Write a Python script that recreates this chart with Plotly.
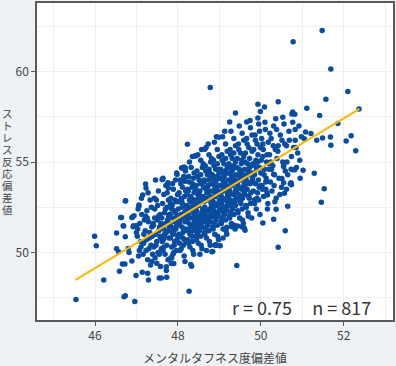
import plotly.graph_objects as go

# ---- data ----
sparse_low = [(45.54,47.39),(45.99,50.89),(46.03,50.37),(46.21,48.47),(46.70,47.55),(46.73,47.60),
    (46.96,47.28),(46.52,51.08),(46.52,50.20),(46.57,50.04),(46.59,48.96),(46.66,49.36),(46.72,49.36),
    (46.74,52.86),(46.64,51.93),(46.69,51.46),(46.73,50.86),(46.80,50.22),(46.82,50.00),(46.89,49.52),
    (46.99,48.72),(46.90,51.95),(46.94,52.03),(46.93,51.48),(47.00,51.48),(47.00,51.10),(47.06,52.57),
    (47.15,53.17),(47.22,53.78),(47.27,48.85),(47.29,48.48),(47.37,49.49),(47.55,48.58),(47.60,48.58),
    (47.73,48.62),(47.58,49.22),(47.72,49.00),(47.84,49.38),(47.90,49.38),(47.85,49.69),(48.27,47.85),
    (48.31,49.33),(49.42,49.27),(50.42,50.29),(50.59,51.20),(50.31,51.84),(50.37,52.39),(50.05,51.63),
    (50.65,52.56),(51.46,52.78),(51.53,53.52),(50.57,53.27),(50.62,53.50),(50.74,53.74),(50.12,53.49),
    (50.16,53.17),(49.60,51.35),(49.62,51.22),(49.32,51.44),(49.18,51.39),(48.94,50.40),(48.82,50.04),
    (48.33,49.23),(48.84,50.05),(48.91,50.42),(49.02,50.37),(49.30,51.42),(49.44,51.46),(49.54,51.42),
    (49.15,51.30),(46.62,51.93),(46.89,51.93),(46.68,51.48),(46.92,51.42),(46.73,52.85),(47.06,52.63)]

sparse_high = [(51.48,62.28),(50.78,61.66),(51.69,60.15),(48.78,59.12),(52.10,58.90),(51.57,58.47),
    (52.37,57.94),(49.93,58.20),(50.42,58.34),(50.09,58.05),(49.39,57.72),(50.77,57.77),(50.75,57.66),
    (50.82,57.65),(51.11,57.97),(51.42,57.57),(49.99,57.79),(49.93,57.44),(50.53,57.48),(49.66,57.21),
    (49.25,57.21),(51.86,57.13),(52.18,56.46),(52.06,56.17),(52.29,55.62),(51.68,56.39),(51.49,56.33),
    (51.69,55.93),(51.35,56.20),(51.21,56.58),(51.08,56.66),(51.05,56.29),(51.29,54.38),(51.02,54.54),
    (50.77,54.58),(50.82,54.58),(50.55,54.75),(50.31,54.32),(50.51,54.09),(50.55,53.85),(50.73,53.85),
    (48.99,56.37),(48.65,55.71),(48.43,55.33),(50.83,56.80),(48.23,55.98),(48.35,55.31),(48.42,55.35),
    (48.10,54.67),(48.18,54.67),(47.98,54.31),(47.63,54.03),(47.76,53.85),(48.17,53.94),(47.23,53.57),
    (47.62,54.03),(47.74,53.76),(47.77,53.57),(48.09,54.67),(48.15,54.72),(48.17,54.16)]

band_470 = [(47.02,50.9),(47.05,49.8),(47.08,51.6),(47.11,50.3),(47.13,52.1),(47.16,49.9),(47.18,51.0),
    (47.04,52.4),(47.10,50.6),(47.14,48.9),(47.19,51.8),(47.07,50.1),(47.12,53.0),(47.17,50.5),(47.03,51.3)]
band_472 = [(47.21,51.2),(47.23,50.1),(47.25,52.3),(47.27,49.6),(47.29,51.7),(47.31,50.8),(47.33,52.9),
    (47.35,50.4),(47.37,51.4),(47.39,49.9),(47.22,52.0),(47.24,50.7),(47.26,51.9),(47.28,53.3),(47.30,50.2),
    (47.32,51.1),(47.34,49.3),(47.36,52.5),(47.38,50.9),(47.40,51.6)]
band_474 = [(47.41,51.5),(47.42,50.3),(47.44,52.4),(47.45,49.7),(47.46,51.0),(47.48,52.9),(47.49,50.6),
    (47.50,51.8),(47.52,50.0),(47.53,53.4),(47.54,51.2),(47.55,49.9),(47.57,52.1),(47.58,50.8),(47.59,51.6),
    (47.43,53.0),(47.47,50.4),(47.51,52.6),(47.56,51.4),(47.60,50.2),(47.44,51.9),(47.49,49.4),(47.53,52.0),
    (47.57,50.9),(47.46,54.0)]
band_476 = [(47.61,51.9),(47.62,50.6),(47.63,52.7),(47.64,50.1),(47.65,51.3),(47.66,53.2),(47.67,50.9),
    (47.68,52.2),(47.69,49.9),(47.70,51.6),(47.71,53.7),(47.72,51.1),(47.73,50.4),(47.74,52.5),(47.75,51.8),
    (47.76,49.6),(47.77,52.9),(47.78,50.8),(47.79,51.4),(47.80,52.1),(47.62,51.5),(47.64,54.1),(47.66,50.3),
    (47.68,51.0),(47.70,52.4),(47.72,49.2),(47.74,53.3),(47.76,51.2),(47.78,52.0),(47.65,50.7)]
band_478 = [(47.81,52.1),(47.82,50.8),(47.83,53.0),(47.84,51.4),(47.85,50.3),(47.86,52.6),(47.87,51.9),
    (47.88,49.9),(47.89,53.5),(47.90,51.2),(47.91,52.3),(47.92,50.6),(47.93,51.7),(47.94,54.0),(47.95,52.8),
    (47.96,50.1),(47.97,51.5),(47.98,52.0),(47.99,53.2),(48.00,50.9),(47.81,51.6),(47.83,49.7),(47.85,52.4),
    (47.87,53.8),(47.89,51.0),(47.91,50.4),(47.93,52.9),(47.95,51.3),(47.97,54.4),(47.99,51.8),(47.82,52.7),
    (47.86,51.1),(47.90,50.0),(47.94,52.2),(47.98,50.7)]
band_480 = [(48.01,52.4),(48.02,51.0),(48.03,53.3),(48.04,50.5),(48.05,51.8),(48.06,54.0),(48.07,52.1),
    (48.08,50.2),(48.09,52.9),(48.10,51.4),(48.11,53.6),(48.12,50.8),(48.13,52.6),(48.14,51.2),(48.15,49.8),
    (48.16,53.1),(48.17,51.7),(48.18,54.5),(48.19,52.3),(48.20,50.6),(48.01,51.5),(48.03,52.0),(48.05,50.1),
    (48.07,53.8),(48.09,51.9),(48.11,52.7),(48.13,50.4),(48.15,52.2),(48.17,49.5),(48.19,53.4),(48.02,52.8),
    (48.04,51.6),(48.06,50.9),(48.08,53.0),(48.10,52.5),(48.12,51.1),(48.14,54.2),(48.16,50.7),(48.18,51.3),
    (48.20,52.0)]
band_482 = [(48.21,52.6),(48.22,51.2),(48.23,53.5),(48.24,50.7),(48.25,52.1),(48.26,54.2),(48.27,51.6),
    (48.28,52.9),(48.29,50.3),(48.30,53.1),(48.31,51.9),(48.32,54.7),(48.33,52.4),(48.34,50.9),(48.35,53.8),
    (48.36,51.4),(48.37,52.7),(48.38,49.9),(48.39,53.3),(48.40,52.0),(48.21,51.8),(48.23,52.3),(48.25,50.5),
    (48.27,53.9),(48.29,52.5),(48.31,51.1),(48.33,53.0),(48.35,50.6),(48.37,52.2),(48.39,54.4),(48.22,53.2),
    (48.24,52.0),(48.26,51.3),(48.28,55.0),(48.30,52.8),(48.32,51.5),(48.34,53.6),(48.36,50.1),(48.38,52.6),
    (48.40,51.7),(48.25,53.4),(48.29,51.0),(48.33,52.9),(48.37,54.1),(48.39,51.2)]
band_484 = [(48.41,52.9),(48.42,51.4),(48.43,53.7),(48.44,50.9),(48.45,52.3),(48.46,54.5),(48.47,51.8),
    (48.48,53.2),(48.49,50.5),(48.50,52.6),(48.51,54.0),(48.52,51.2),(48.53,53.4),(48.54,52.0),(48.55,55.1),
    (48.56,51.6),(48.57,52.8),(48.58,50.2),(48.59,53.9),(48.60,52.4),(48.41,51.9),(48.43,52.5),(48.45,50.7),
    (48.47,54.2),(48.49,52.7),(48.51,51.3),(48.53,53.1),(48.55,50.9),(48.57,52.2),(48.59,54.7),(48.42,53.4),
    (48.44,52.1),(48.46,51.5),(48.48,55.4),(48.50,53.0),(48.52,51.7),(48.54,53.8),(48.56,50.4),(48.58,52.9),
    (48.60,51.9),(48.43,53.6),(48.47,51.1),(48.51,53.3),(48.55,54.3),(48.59,51.4),(48.45,52.0),(48.53,49.9),
    (48.57,55.7)]
band_486 = [(48.61,53.1),(48.62,51.7),(48.63,54.0),(48.64,51.1),(48.65,52.5),(48.66,54.8),(48.67,52.0),
    (48.68,53.5),(48.69,50.8),(48.70,52.9),(48.71,54.3),(48.72,51.5),(48.73,53.7),(48.74,52.3),(48.75,55.4),
    (48.76,51.9),(48.77,53.0),(48.78,50.4),(48.79,54.1),(48.80,52.7),(48.61,52.2),(48.63,52.8),(48.65,51.0),
    (48.67,54.5),(48.69,53.0),(48.71,51.6),(48.73,53.3),(48.75,51.2),(48.77,52.4),(48.79,55.0),(48.62,53.6),
    (48.64,52.4),(48.66,51.8),(48.68,55.8),(48.70,53.3),(48.72,52.0),(48.74,54.0),(48.76,50.6),(48.78,53.1),
    (48.80,52.1),(48.63,53.9),(48.67,51.3),(48.71,53.6),(48.75,54.6),(48.79,51.7),(48.65,52.2),(48.69,50.1),
    (48.73,56.0),(48.77,54.4),(48.61,54.9)]
band_488 = [(48.81,53.4),(48.82,52.0),(48.83,54.3),(48.84,51.4),(48.85,52.8),(48.86,55.1),(48.87,52.3),
    (48.88,53.7),(48.89,51.0),(48.90,53.1),(48.91,54.6),(48.92,51.8),(48.93,54.0),(48.94,52.6),(48.95,55.7),
    (48.96,52.1),(48.97,53.2),(48.98,50.7),(48.99,54.4),(49.00,52.9),(48.81,52.5),(48.83,53.0),(48.85,51.3),
    (48.87,54.8),(48.89,53.3),(48.91,51.9),(48.93,53.5),(48.95,51.5),(48.97,52.7),(48.99,55.3),(48.82,53.8),
    (48.84,52.6),(48.86,52.0),(48.88,56.1),(48.90,53.6),(48.92,52.2),(48.94,54.2),(48.96,50.9),(48.98,53.4),
    (49.00,52.4),(48.83,54.1),(48.87,51.6),(48.91,53.9),(48.95,54.9),(48.99,52.0),(48.85,52.5),(48.89,50.4),
    (48.93,56.4),(48.97,54.6),(48.81,55.2)]
band_490 = [(49.01,53.7),(49.02,52.3),(49.03,54.6),(49.04,51.7),(49.05,53.1),(49.06,55.4),(49.07,52.6),
    (49.08,54.0),(49.09,51.3),(49.10,53.4),(49.11,54.9),(49.12,52.1),(49.13,54.3),(49.14,52.9),(49.15,56.0),
    (49.16,52.4),(49.17,53.5),(49.18,51.0),(49.19,54.7),(49.20,53.2),(49.01,52.8),(49.03,53.3),(49.05,51.6),
    (49.07,55.1),(49.09,53.6),(49.11,52.2),(49.13,53.8),(49.15,51.8),(49.17,53.0),(49.19,55.6),(49.02,54.1),
    (49.04,52.9),(49.06,52.3),(49.08,56.4),(49.10,53.9),(49.12,52.5),(49.14,54.5),(49.16,51.2),(49.18,53.7),
    (49.20,52.7),(49.03,54.4),(49.07,51.9),(49.11,54.2),(49.15,55.2),(49.19,52.3),(49.05,52.8),(49.09,50.8),
    (49.13,56.7)]
band_492 = [(49.21,54.0),(49.22,52.6),(49.23,54.9),(49.24,52.0),(49.25,53.4),(49.26,55.7),(49.27,52.9),
    (49.28,54.3),(49.29,51.6),(49.30,53.7),(49.31,55.2),(49.32,52.4),(49.33,54.6),(49.34,53.2),(49.35,56.3),
    (49.36,52.7),(49.37,53.8),(49.38,51.3),(49.39,55.0),(49.40,53.5),(49.21,53.1),(49.23,53.6),(49.25,51.9),
    (49.27,55.4),(49.29,53.9),(49.31,52.5),(49.33,54.1),(49.35,52.1),(49.37,53.3),(49.39,55.9),(49.22,54.4),
    (49.24,53.2),(49.26,52.6),(49.28,56.7),(49.30,54.2),(49.32,52.8),(49.34,54.8),(49.36,51.5),(49.38,54.0),
    (49.40,53.0),(49.23,54.7),(49.27,52.2),(49.31,54.5),(49.35,55.5),(49.39,52.6)]
band_494 = [(49.41,54.3),(49.42,52.9),(49.43,55.2),(49.44,52.3),(49.45,53.7),(49.46,56.0),(49.47,53.2),
    (49.48,54.6),(49.49,51.9),(49.50,54.0),(49.51,55.5),(49.52,52.7),(49.53,54.9),(49.54,53.5),(49.55,56.6),
    (49.56,53.0),(49.57,54.1),(49.58,51.6),(49.59,55.3),(49.60,53.8),(49.41,53.4),(49.43,53.9),(49.45,52.2),
    (49.47,55.7),(49.49,54.2),(49.51,52.8),(49.53,54.4),(49.55,52.4),(49.57,53.6),(49.59,56.2),(49.42,54.7),
    (49.44,53.5),(49.46,52.9),(49.48,57.0),(49.50,54.5),(49.52,53.1),(49.54,55.1),(49.56,51.8),(49.58,54.3),
    (49.60,53.3)]
band_496 = [(49.61,54.6),(49.62,53.2),(49.63,55.5),(49.64,52.6),(49.65,54.0),(49.66,56.3),(49.67,53.5),
    (49.68,54.9),(49.69,52.2),(49.70,54.3),(49.71,55.8),(49.72,53.0),(49.73,55.2),(49.74,53.8),(49.75,56.9),
    (49.76,53.3),(49.77,54.4),(49.78,51.9),(49.79,55.6),(49.80,54.1),(49.61,53.7),(49.63,54.2),(49.65,52.5),
    (49.67,56.0),(49.69,54.5),(49.71,53.1),(49.73,54.7),(49.75,52.7),(49.77,53.9),(49.79,56.5),(49.62,55.0),
    (49.66,53.8),(49.70,52.0),(49.74,57.3),(49.78,54.8)]
band_498 = [(49.81,54.9),(49.82,53.4),(49.83,55.7),(49.84,52.9),(49.85,54.3),(49.86,56.5),(49.87,53.8),
    (49.88,55.1),(49.89,52.4),(49.90,54.6),(49.91,56.0),(49.92,53.3),(49.93,55.4),(49.94,54.0),(49.95,57.1),
    (49.96,53.6),(49.97,54.7),(49.98,52.1),(49.99,55.8),(50.00,54.4),(49.81,53.9),(49.83,54.4),(49.85,52.7),
    (49.87,56.2),(49.89,54.8),(49.91,53.0),(49.93,55.0),(49.95,52.9),(49.97,56.7),(49.99,53.7)]
band_500 = [(50.01,55.1),(50.03,53.7),(50.05,56.0),(50.07,53.1),(50.09,54.6),(50.11,56.8),(50.13,54.1),
    (50.15,55.4),(50.17,52.7),(50.19,54.9),(50.02,56.3),(50.04,53.5),(50.06,55.7),(50.08,54.3),(50.10,57.2),
    (50.12,53.9),(50.14,55.0),(50.16,52.4),(50.18,56.1),(50.20,54.6),(50.05,55.3),(50.15,53.3)]
band_502 = [(50.21,55.4),(50.23,53.9),(50.25,56.3),(50.27,53.4),(50.29,54.8),(50.31,57.0),(50.33,54.3),
    (50.35,55.7),(50.37,53.0),(50.39,55.2),(50.22,56.6),(50.26,54.6),(50.30,55.9),(50.34,52.8),(50.38,56.8),
    (50.24,55.0),(50.32,53.7),(50.36,57.4)]
band_504 = [(50.41,55.6),(50.44,54.1),(50.47,56.5),(50.50,53.6),(50.53,55.0),(50.56,57.1),(50.59,54.5),
    (50.42,55.9),(50.46,53.2),(50.51,56.2),(50.55,54.8),(50.58,56.0)]
band_506 = [(50.62,55.9),(50.65,54.3),(50.68,56.7),(50.71,53.8),(50.74,55.3),(50.77,57.2),(50.63,55.0),
    (50.69,56.2),(50.73,54.6),(50.79,55.8)]
band_508 = [(50.83,56.2),(50.86,54.7),(50.89,55.5),(50.92,57.0),(50.95,54.1),(50.98,56.4),(50.85,55.8),
    (50.94,55.1)]

# regression line as drawn in the reference (end points)
fit_x = [45.53, 52.38]
fit_y = [48.48, 57.94]

stat_text = "r = 0.75\u00a0\u00a0\u00a0\u00a0\u00a0n = 817"
x_title = "メンタルタフネス度偏差値"
y_title = "ストレス反応偏差値"

groups = [sparse_low, sparse_high, band_470, band_472, band_474, band_476, band_478, band_480,
          band_482, band_484, band_486, band_488, band_490, band_492, band_494, band_496, band_498,
          band_500, band_502, band_504, band_506, band_508]
pts = [p for g in groups for p in g]
xs = [p[0] for p in pts]
ys = [p[1] for p in pts]

font_family = "Noto Sans CJK JP, Noto Sans, sans-serif"
fig = go.Figure()
fig.add_trace(go.Scatter(x=xs, y=ys, mode="markers",
                         marker=dict(size=5.5, color="#0a4c9e", line=dict(width=0)),
                         hoverinfo="skip", showlegend=False))
fig.add_trace(go.Scatter(x=fit_x, y=fit_y, mode="lines",
                         line=dict(color="#f5b90f", width=2.2),
                         hoverinfo="skip", showlegend=False))

axis_common = dict(showline=True, linecolor="#5a5a5a", linewidth=1.5, mirror=True,
                   ticks="outside", ticklen=4, tickcolor="#5a5a5a", tickwidth=1,
                   showgrid=True, gridcolor="#efefef", gridwidth=1, zeroline=False,
                   tickfont=dict(size=12, color="#444444", family=font_family))
fig.update_layout(
    width=396, height=366,
    margin=dict(l=37, r=3, t=1, b=46),
    paper_bgcolor="#eef2f5", plot_bgcolor="#ffffff",
    font=dict(family=font_family, color="#444444"),
    xaxis=dict(range=[44.6, 53.19], dtick=2, tick0=46,
               minor=dict(dtick=1, tick0=45, showgrid=True, gridcolor="#efefef", ticks=""),
               **axis_common),
    yaxis=dict(range=[46.26, 63.8], dtick=5, tick0=50,
               minor=dict(dtick=2.5, tick0=47.5, showgrid=True, gridcolor="#efefef", ticks=""),
               **axis_common),
)

fig.add_annotation(text=stat_text, xref="paper", yref="paper", x=0.743, y=0.042,
                   xanchor="center", yanchor="middle", showarrow=False,
                   font=dict(size=18, color="#333333", family=font_family))
fig.add_annotation(text=x_title, xref="paper", yref="paper", x=0.5, y=-0.119,
                   xanchor="center", yanchor="middle", showarrow=False,
                   font=dict(size=12, color="#444444", family=font_family))
for i, ch in enumerate(y_title):
    fig.add_annotation(text=ch, xref="paper", yref="paper", x=-0.084, y=0.5,
                       yshift=(4 - i) * 11.9, xanchor="center", yanchor="middle",
                       showarrow=False, borderpad=0,
                       font=dict(size=10.5, color="#444444", family=font_family))

fig.write_html("out.html", config={"displayModeBar": False},
               post_script="document.body.style.margin='0';document.body.style.overflow='hidden';")
